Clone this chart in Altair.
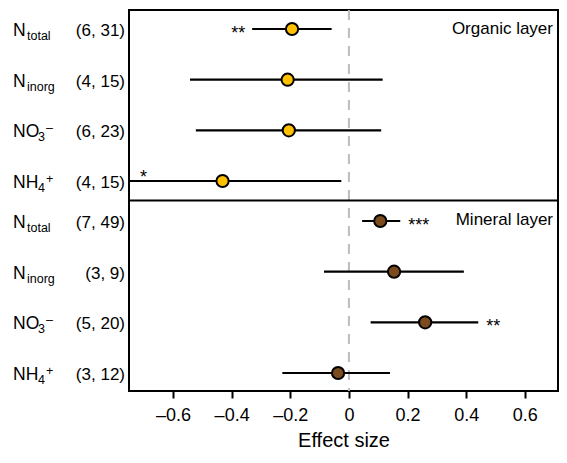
import altair as alt
import pandas as pd

# ---------------- data ----------------
variables = ["Ntotal", "Ninorg", "NO3", "NH4"]
label_main = ["N", "N", "NO", "NH"]
label_sub = ["total", "inorg", "3", "4"]
label_sup = ["", "", "–", "+"]

org_counts = ["(6, 31)", "(4, 15)", "(6, 23)", "(4, 15)"]
org_est = [-0.194, -0.209, -0.205, -0.431]
org_lo = [-0.330, -0.542, -0.522, -0.800]
org_hi = [-0.059, 0.115, 0.110, -0.026]
org_sig = ["**", "", "", "*"]

min_counts = ["(7, 49)", "(3, 9)", "(5, 20)", "(3, 12)"]
min_est = [0.107, 0.154, 0.260, -0.037]
min_lo = [0.045, -0.085, 0.074, -0.227]
min_hi = [0.175, 0.392, 0.441, 0.140]
min_sig = ["***", "", "**", ""]

x_ticks = [-0.6, -0.4, -0.2, 0, 0.2, 0.4, 0.6]
x_domain = [-0.75, 0.713]

FONT = "Liberation Sans"
W, H = 429, 381


def make_df(counts, est, lo, hi, sig):
    return pd.DataFrame({"var": variables, "main": label_main, "sub": label_sub,
                         "sup": label_sup, "counts": counts, "est": est,
                         "lo": lo, "hi": hi, "sig": sig})


xscale = alt.Scale(domain=x_domain, clamp=True, nice=False, zero=False)
AXIS = alt.Axis(values=x_ticks, title="Effect size",
                labelExpr="datum.value == 0 ? '0' : (datum.value < 0 ? '–' + format(-datum.value, '.1f') : format(datum.value, '.1f'))",
                domain=False, grid=False, ticks=True, tickSize=7, tickWidth=2,
                tickColor="black", labelFontSize=18, labelFont=FONT,
                labelColor="black", labelPadding=8, titleFontSize=20,
                titleFont=FONT, titleFontWeight="normal", titleColor="black",
                titleBaseline="alphabetic", titleY=55)


def x_enc(field):
    return alt.X(field, type="quantitative", scale=xscale, axis=AXIS)


def panel(df, color, y_range, sig_mode):
    y = alt.Y("var:N", sort=variables,
              scale=alt.Scale(type="point", domain=variables, range=y_range, padding=0),
              axis=None)
    base = alt.Chart(df)

    ci = base.mark_rule(color="black", strokeWidth=2.2).encode(
        x=x_enc("lo"), x2="hi:Q", y=y)
    pts = base.mark_circle(size=150, fill=color, stroke="black", strokeWidth=2,
                           opacity=1, fillOpacity=1).encode(x=x_enc("est"), y=y)
    label_main_l = base.mark_text(align="left", baseline="alphabetic", font=FONT,
                                  fontSize=17.5, dy=7, color="black").encode(
        x=alt.value(-116), y=y, text="main:N")
    sub_n = base.transform_filter("datum.main == 'N'").mark_text(
        align="left", baseline="alphabetic", font=FONT, fontSize=12.5, dy=11,
        color="black").encode(x=alt.value(-102), y=y, text="sub:N")
    sub_o = base.transform_filter("datum.main != 'N'").mark_text(
        align="left", baseline="alphabetic", font=FONT, fontSize=12.5, dy=11,
        color="black").encode(x=alt.value(-91), y=y, text="sub:N")
    sup = base.transform_filter("datum.sup != ''").mark_text(
        align="left", baseline="alphabetic", font=FONT, fontSize=12.5, dy=2,
        color="black").encode(x=alt.value(-83), y=y, text="sup:N")
    counts = base.mark_text(align="right", baseline="alphabetic", font=FONT,
                            fontSize=17, dy=7, color="black").encode(
        x=alt.value(-4), y=y, text="counts:N")
    layers = [ci, pts, label_main_l, sub_n, sub_o, sup, counts]

    if sig_mode == "organic":
        s1 = base.transform_filter("datum.var == 'Ntotal'").mark_text(
            align="right", baseline="alphabetic", font=FONT, fontSize=18, dx=-7, dy=10,
            color="black").encode(x=x_enc("lo"), y=y, text="sig:N")
        s2 = base.transform_filter("datum.var == 'NH4'").mark_text(
            align="left", baseline="alphabetic", font=FONT, fontSize=18, dy=2,
            color="black").encode(x=alt.value(11), y=y, text="sig:N")
        layers += [s1, s2]
    else:
        s1 = base.transform_filter("datum.sig != ''").mark_text(
            align="left", baseline="alphabetic", font=FONT, fontSize=18, dx=8, dy=10,
            color="black").encode(x=x_enc("hi"), y=y, text="sig:N")
        layers += [s1]

    return alt.layer(*layers)


org_df = make_df(org_counts, org_est, org_lo, org_hi, org_sig)
min_df = make_df(min_counts, min_est, min_lo, min_hi, min_sig)

one = alt.Chart(alt.Data(values=[{"z": 0}]))
zero = one.mark_rule(color="#BDBDBD", strokeWidth=2, strokeDash=[10, 8]).encode(
    x=alt.X("z:Q", scale=xscale, axis=AXIS))
divider = one.mark_rule(color="black", strokeWidth=2).encode(y=alt.value(H / 2))
t_org = one.mark_text(align="right", baseline="alphabetic", font=FONT, fontSize=17,
                      color="black").encode(x=alt.value(W - 5), y=alt.value(24),
                                            text=alt.value("Organic layer"))
t_min = one.mark_text(align="right", baseline="alphabetic", font=FONT, fontSize=17,
                      color="black").encode(x=alt.value(W - 5), y=alt.value(H / 2 + 24),
                                            text=alt.value("Mineral layer"))

top = panel(org_df, "#FFC000", [19, 171], "organic")
bottom = panel(min_df, "#7B4B1E", [211, 363], "mineral")

chart = alt.layer(zero, divider, t_org, t_min, top, bottom).resolve_scale(
    y="independent"
).properties(
    width=W, height=H,
    autosize=alt.AutoSizeParams(type="none"),
    padding={"left": 121, "top": 2, "right": 1, "bottom": 58},
).configure(font=FONT, background="white").configure_view(
    stroke="black", strokeWidth=2)

chart.save("out.html", embed_options={"renderer": "svg", "actions": False})
